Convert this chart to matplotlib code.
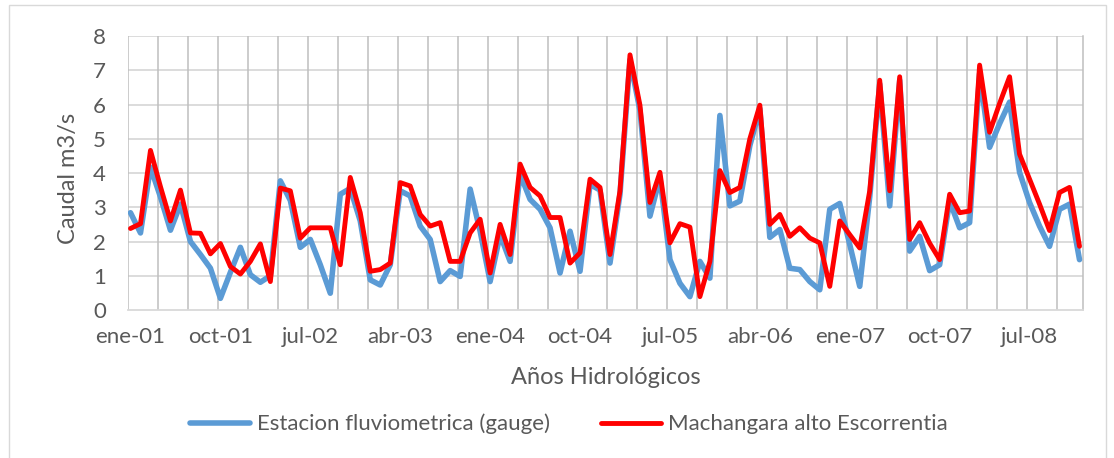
import numpy as np
import matplotlib.pyplot as plt
from matplotlib.patches import Rectangle

# Caudales mensuales ene-01 a dic-08 (m3/s)
meses = ['ene', 'feb', 'mar', 'abr', 'may', 'jun', 'jul', 'ago', 'sep', 'oct', 'nov', 'dic']
anios = ['01', '02', '03', '04', '05', '06', '07', '08']
etiquetas = [f"{m}-{a}" for a in anios for m in meses]

gauge = [2.84, 2.25, 4.17, 3.30, 2.33, 3.09, 2.00, 1.62, 1.22, 0.34, 1.10, 1.83,
         1.03, 0.81, 1.00, 3.77, 3.20, 1.83, 2.06, 1.32, 0.49, 3.38, 3.55, 2.60,
         0.88, 0.73, 1.32, 3.48, 3.33, 2.45, 2.06, 0.83, 1.15, 0.98, 3.53, 2.30,
         0.83, 2.20, 1.42, 3.97, 3.23, 2.94, 2.40, 1.08, 2.30, 1.13, 3.67, 3.50,
         1.37, 3.38, 7.30, 5.83, 2.74, 3.87, 1.47, 0.78, 0.39, 1.42, 0.93, 5.68,
         3.04, 3.18, 4.80, 5.88, 2.12, 2.35, 1.22, 1.18, 0.83, 0.59, 2.94, 3.11,
         1.91, 0.69, 3.30, 6.60, 3.04, 6.71, 1.72, 2.15, 1.15, 1.32, 3.18, 2.40,
         2.55, 6.90, 4.75, 5.44, 6.07, 4.02, 3.14, 2.45, 1.86, 2.94, 3.09, 1.47]

escorrentia = [2.38, 2.52, 4.66, 3.60, 2.60, 3.50, 2.25, 2.24, 1.64, 1.94, 1.27, 1.05,
               1.42, 1.93, 0.83, 3.56, 3.48, 2.10, 2.40, 2.40, 2.40, 1.32, 3.87, 2.84,
               1.13, 1.18, 1.37, 3.72, 3.62, 2.79, 2.45, 2.55, 1.42, 1.42, 2.25, 2.65,
               1.08, 2.50, 1.62, 4.26, 3.58, 3.33, 2.70, 2.70, 1.37, 1.67, 3.82, 3.58,
               1.62, 3.48, 7.45, 5.98, 3.14, 4.02, 1.96, 2.52, 2.42, 0.39, 1.42, 4.07,
               3.43, 3.58, 5.00, 5.98, 2.50, 2.79, 2.15, 2.40, 2.10, 1.96, 0.69, 2.60,
               2.20, 1.81, 3.48, 6.71, 3.48, 6.81, 2.06, 2.55, 1.95, 1.47, 3.38, 2.84,
               2.89, 7.15, 5.19, 6.03, 6.81, 4.55, 3.82, 3.09, 2.32, 3.43, 3.58, 1.86]

FUENTE = 'Lato'
GRIS_TEXTO = '#595959'

x = np.arange(len(gauge))

fig = plt.figure(figsize=(11.14, 4.58), dpi=100)
fig.patches.append(Rectangle((9 / 1114, -0.05), 1097 / 1114, 1.05 - 5 / 458,
                             transform=fig.transFigure, fill=False,
                             edgecolor='#d9d9d9', linewidth=1))

ax = fig.add_axes([128 / 1114, 148 / 458, 955 / 1114, 274 / 458])

ax.plot(x, gauge, color='#5b9bd5', linewidth=4.0, solid_joinstyle='round',
        solid_capstyle='round', label='Estacion fluviometrica (gauge)', zorder=3)
ax.plot(x, escorrentia, color='#ff0000', linewidth=3.5, solid_joinstyle='round',
        solid_capstyle='round', label='Machangara alto Escorrentia', zorder=4)

ax.set_xlim(-0.25, 95.35)
ax.set_ylim(0, 8)

# rejilla: horizontales claras, verticales cada 3 meses algo mas oscuras
ax.set_yticks(range(0, 9))
for v in range(1, 9):
    ax.axhline(v, color='#d9d9d9', linewidth=1.3, zorder=1)
for k in range(0, 96, 3):
    ax.axvline(k - 0.25, color='#bfbfbf', linewidth=1.1, zorder=1)

pos = list(range(0, 96, 9))
ax.set_xticks(pos)
ax.set_xticklabels([etiquetas[p] for p in pos])
ax.tick_params(axis='both', length=0, labelsize=16, labelcolor=GRIS_TEXTO)
ax.tick_params(axis='x', pad=12)
ax.tick_params(axis='y', pad=16)
for lab in ax.get_xticklabels() + ax.get_yticklabels():
    lab.set_fontfamily(FUENTE)

for s in ['top', 'left']:
    ax.spines[s].set_visible(False)
ax.spines['right'].set_color('#bfbfbf')
ax.spines['right'].set_linewidth(1.1)
ax.spines['bottom'].set_color('#d9d9d9')
ax.spines['bottom'].set_linewidth(1.3)

ax.set_ylabel('Caudal m3/s', fontsize=17, color=GRIS_TEXTO, family=FUENTE)
ax.yaxis.set_label_coords(-0.051, 0.48)
ax.set_xlabel('Años Hidrológicos', fontsize=17, color=GRIS_TEXTO, family=FUENTE, labelpad=15)

fig.legend(loc='center', bbox_to_anchor=(569 / 1114, 1 - 424 / 458), ncol=2,
           frameon=False, prop={'family': FUENTE, 'size': 16},
           labelcolor=GRIS_TEXTO, handlelength=2.7, handletextpad=0.3,
           columnspacing=2.3)

fig.savefig('out.png', dpi=100)
